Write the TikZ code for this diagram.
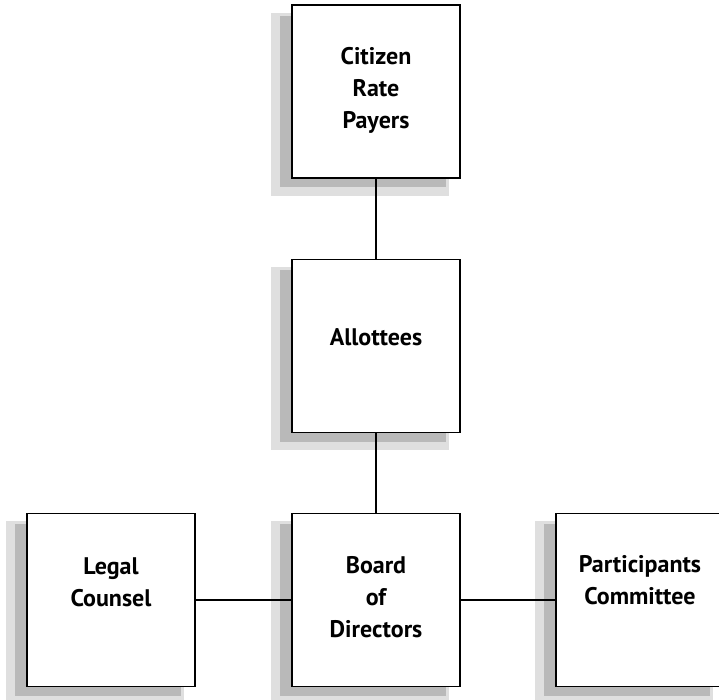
\documentclass[tikz,border=0pt]{standalone}
\usepackage{fontspec}
\setmainfont{PT Sans}
\usetikzlibrary{shadows}

\begin{document}
\begin{tikzpicture}[x=1pt,y=-1pt,line width=1.5pt,
    box/.style={draw,fill=white,line width=1.8pt,minimum width=168pt,minimum height=173pt,
      general shadow={shadow xshift=-15pt,shadow yshift=-12pt,shadow scale=1.06,fill=gray!25},
      general shadow={shadow xshift=-13pt,shadow yshift=-10pt,shadow scale=0.99,fill=gray!55}},
    lbl/.style={align=center,font=\bfseries\fontsize{24}{32}\selectfont}]
  \useasboundingbox (0,0) rectangle (719,700);
  \clip (0,0) rectangle (719,700);
  % boxes
  \node[box] (citizen) at (376,91.5) {};
  \node[box] (allottees) at (376,346) {};
  \node[box] (board) at (376,600) {};
  \node[box] (legal) at (111,600) {};
  \node[box] (participants) at (640,600) {};
  % labels
  \node[lbl,yshift=1pt] at (citizen) {Citizen\\Rate\\Payers};
  \node[lbl,yshift=9pt] at (allottees) {Allottees};
  \node[lbl,yshift=3pt] at (board) {Board\\of\\Directors};
  \node[lbl,yshift=18pt] at (legal) {Legal\\Counsel};
  \node[lbl,yshift=20pt] at (participants) {Participants\\Committee};
  % connectors
  \draw (citizen) -- (allottees);
  \draw (allottees) -- (board);
  \draw (legal) -- (board);
  \draw (board) -- (participants);
\end{tikzpicture}
\end{document}
